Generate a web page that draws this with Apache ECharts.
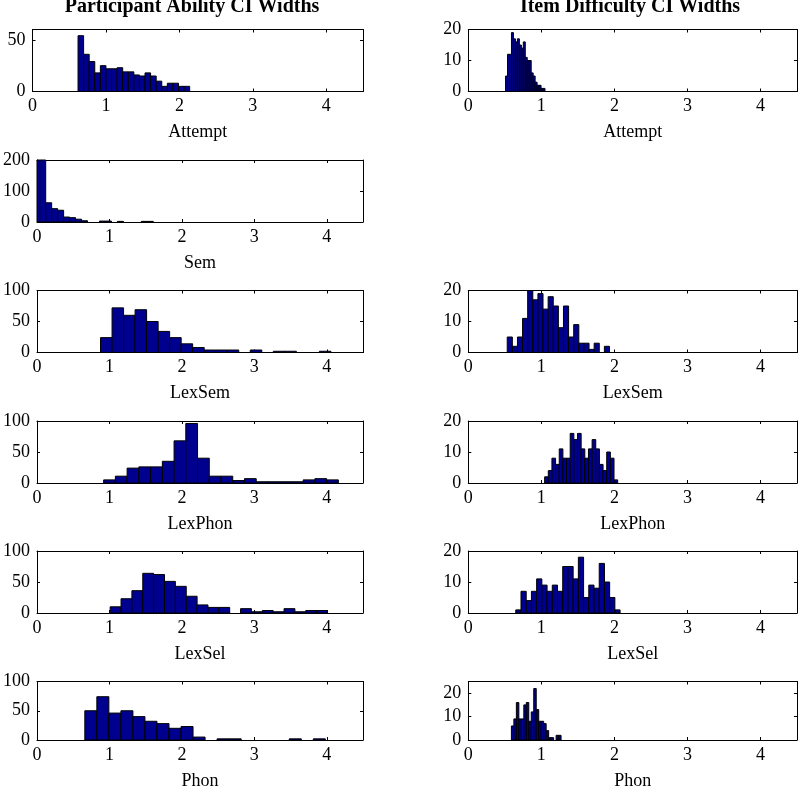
<!DOCTYPE html>
<html><head><meta charset="utf-8">
<script src="https://cdn.jsdelivr.net/npm/echarts@6/dist/echarts.min.js"></script>
<style>html,body{margin:0;padding:0;background:#fff}#c{width:800px;height:791px}</style>
</head><body><div id="c"></div>
<script>
// ---------- data ----------
const colTitles = ['Participant Ability CI Widths', 'Item Difficulty CI Widths'];
const xTickLabels = [0, 1, 2, 3, 4];

// Participant ability (left column)
const pAttemptStart = 0.62, pAttemptWidth = 0.076;
const pAttemptCounts = [54,36,29,18,25,22,22,23,19,19,16,15,18,15,10,5,8,8,5,5];

const pSemStart = -0.045, pSemWidth = 0.0825;
const pSemCounts = [230,230,62,43,38,16,14,9,4,0,0,3,3,0,2,0,0,0,2,2];

const pLexSemStart = 0.877, pLexSemWidth = 0.159;
const pLexSemCounts = [24,72,60,69,50,34,24,14,8,4,4,4,0,4,0,2,2,0,0,2];

const pLexPhonStart = 0.92, pLexPhonWidth = 0.162;
const pLexPhonCounts = [5,11,24,26,26,35,68,96,40,11,11,4,7,2,2,2,2,5,7,5];

const pLexSelStart = 1.01, pLexSelWidth = 0.15;
const pLexSelCounts = [10,23,36,64,62,51,43,27,13,9,9,0,7,2,4,2,7,2,4,4];

const pPhonStart = 0.66, pPhonWidth = 0.166;
const pPhonCounts = [50,74,46,50,40,32,28,20,23,5,0,2,2,0,0,0,0,2,0,2];

// Item difficulty (right column)
const iAttemptStart = 0.51, iAttemptWidth = 0.027;
const iAttemptCounts = [5,12,12,19,17,16,17,15,14,16,11,10,10,6,5,3,2,2,1,1];

const iLexSemStart = 0.533, iLexSemWidth = 0.07;
const iLexSemCounts = [5,2,5,11,20,17,19,14,18,15,8,15,5,9,3,3,1,3,0,2];

const iLexPhonStart = 1.045, iLexPhonWidth = 0.05;
const iLexPhonCounts = [2,4,8,6,11,8,8,16,14,16,11,8,11,14,11,6,4,10,8,1];

const iLexSelStart = 0.65, iLexSelWidth = 0.0714;
const iLexSelCounts = [1,7,4,7,11,9,7,9,7,15,15,11,18,5,9,8,16,10,5,1];

const iPhonStart = 0.59, iPhonWidth = 0.034;
const iPhonCounts = [6,9,16,9,9,15,16,8,12,22,13,8,8,7,4,1,1,0,2,2];

// ---------- panels ----------
const panels = [
  {col:0,row:0,label:'Attempt',start:pAttemptStart,width:pAttemptWidth,counts:pAttemptCounts,yMax:60,yInt:50},
  {col:0,row:1,label:'Sem',start:pSemStart,width:pSemWidth,counts:pSemCounts,yMax:200,yInt:100},
  {col:0,row:2,label:'LexSem',start:pLexSemStart,width:pLexSemWidth,counts:pLexSemCounts,yMax:100,yInt:50},
  {col:0,row:3,label:'LexPhon',start:pLexPhonStart,width:pLexPhonWidth,counts:pLexPhonCounts,yMax:100,yInt:50},
  {col:0,row:4,label:'LexSel',start:pLexSelStart,width:pLexSelWidth,counts:pLexSelCounts,yMax:100,yInt:50},
  {col:0,row:5,label:'Phon',start:pPhonStart,width:pPhonWidth,counts:pPhonCounts,yMax:100,yInt:50},
  {col:1,row:0,label:'Attempt',start:iAttemptStart,width:iAttemptWidth,counts:iAttemptCounts,yMax:20,yInt:10},
  {col:1,row:2,label:'LexSem',start:iLexSemStart,width:iLexSemWidth,counts:iLexSemCounts,yMax:20,yInt:10},
  {col:1,row:3,label:'LexPhon',start:iLexPhonStart,width:iLexPhonWidth,counts:iLexPhonCounts,yMax:20,yInt:10},
  {col:1,row:4,label:'LexSel',start:iLexSelStart,width:iLexSelWidth,counts:iLexSelCounts,yMax:20,yInt:10},
  {col:1,row:5,label:'Phon',start:iPhonStart,width:iPhonWidth,counts:iPhonCounts,yMax:25,yInt:10}
];

const FONT = '"Liberation Serif","Times New Roman",serif';
const colLeft = [32.5, 468.3];
const colWidth = [330.5, 330];
const rowTop = [29.5, 160, 290.5, 421, 551, 681.5];
const gridH = 62;
const barFill = '#00008F';

const grid = [], xAxis = [], yAxis = [], series = [];
panels.forEach((p, i) => {
  grid.push({left: colLeft[p.col], top: rowTop[p.row], width: colWidth[p.col], height: gridH, containLabel: false});
  const lineStyle = {color: '#000', width: 1};
  const xBase = {gridIndex: i, type: 'value', min: 0, max: 4.5, interval: 1,
    axisLine: {show: true, onZero: false, lineStyle}, splitLine: {show: false},
    axisTick: {show: true, inside: true, length: 3, lineStyle}};
  xAxis.push(Object.assign({}, xBase, {position: 'bottom',
    name: p.label, nameLocation: 'middle', nameGap: 32,
    nameTextStyle: {fontFamily: FONT, fontSize: 18, color: '#000'},
    axisLabel: {show: true, margin: 6, fontFamily: FONT, fontSize: 18, color: '#000',
      formatter: v => (xTickLabels.indexOf(v) >= 0 ? String(v) : '')}}));
  xAxis.push(Object.assign({}, xBase, {position: 'top', axisLabel: {show: false}}));
  const yBase = {gridIndex: i, type: 'value', min: 0, max: p.yMax, interval: p.yInt,
    axisLine: {show: true, onZero: false, lineStyle}, splitLine: {show: false},
    axisTick: {show: true, inside: true, length: 3, lineStyle}};
  yAxis.push(Object.assign({}, yBase, {position: 'left',
    axisLabel: {show: true, margin: 7, fontFamily: FONT, fontSize: 18, color: '#000',
      formatter: v => (v % p.yInt === 0 ? String(v) : '')}}));
  yAxis.push(Object.assign({}, yBase, {position: 'right', axisLabel: {show: false}}));

  const data = p.counts.map((c, k) => [p.start + k * p.width, p.start + (k + 1) * p.width, c]);
  series.push({
    type: 'custom', xAxisIndex: 2 * i, yAxisIndex: 2 * i, data,
    silent: true, animation: false,
    renderItem: (params, api) => {
      const x0 = api.value(0), x1 = api.value(1), y = api.value(2);
      if (y <= 0) return null;
      const cs = params.coordSys;
      const a = api.coord([x0, 0]);
      const b = api.coord([x1, y]);
      const left = Math.max(a[0], cs.x);
      const top = Math.max(b[1], cs.y);
      return {type: 'rect', shape: {x: left, y: top, width: b[0] - left, height: a[1] - top},
        style: {fill: barFill, stroke: '#000', lineWidth: 1}};
    }
  });
});

const chart = echarts.init(document.getElementById('c'), null, {renderer: 'canvas'});
chart.setOption({
  animation: false,
  backgroundColor: '#fff',
  grid, xAxis, yAxis, series,
  graphic: [
    {type: 'text', x: 192, y: 6.5, style: {text: colTitles[0], x: 0, y: 0, align: 'center', verticalAlign: 'middle', font: 'bold 20px ' + FONT, fill: '#000'}},
    {type: 'text', x: 630, y: 6.5, style: {text: colTitles[1], x: 0, y: 0, align: 'center', verticalAlign: 'middle', font: 'bold 20px ' + FONT, fill: '#000'}}
  ]
});
</script></body></html>
